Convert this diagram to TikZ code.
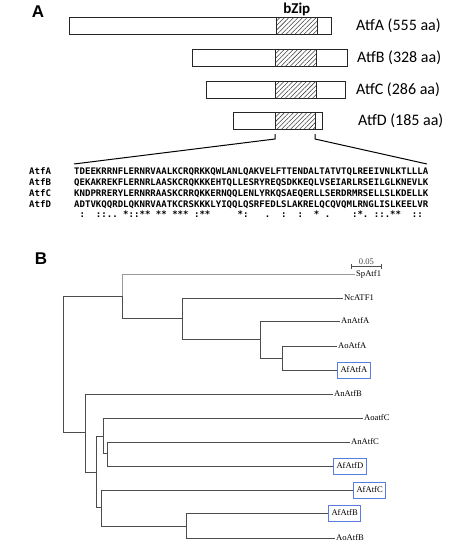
\documentclass[tikz,border=0pt]{standalone}
\usepackage{fontspec}
\setmainfont{Carlito}
\newfontfamily\seqfont{DejaVu Sans Mono}
\newfontfamily\treefont{Liberation Serif}
\newfontfamily\panelfont{Liberation Sans}
\usetikzlibrary{positioning, arrows.meta, patterns.meta}
\definecolor{boxblue}{RGB}{88,125,222}

\begin{document}
\begin{tikzpicture}[
        x=1pt, y=-1pt,
        bar/.style={
            rectangle,
            draw=black!85,
            line width=1.1pt,
            fill=white,
            minimum height=17pt,
            inner sep=0pt,
            anchor=west
        },
        zip/.style={
            rectangle,
            draw=black!85,
            line width=0.9pt,
            minimum height=17pt,
            inner sep=0pt,
            anchor=west,
            pattern={Lines[angle=45, distance=3.2pt, line width=0.55pt]},
            pattern color=black!75
        },
        protlabel/.style={
            anchor=west,
            inner sep=0pt,
            font=\fontsize{16}{18}\selectfont
        },
        seqrow/.style={
            anchor=base west,
            inner sep=0pt,
            font=\seqfont\bfseries\fontsize{9.05}{10}\selectfont\frenchspacing
        },
        panel/.style={
            inner sep=0pt,
            font=\panelfont\bfseries\fontsize{17}{19}\selectfont
        },
        branch/.style={
            draw=black!70,
            line width=0.95pt
        },
        leaf/.style={
            anchor=west,
            inner sep=1pt,
            font=\treefont\fontsize{8.6}{10}\selectfont
        },
        afleaf/.style={
            leaf,
            draw=boxblue,
            line width=1pt,
            inner xsep=3pt,
            minimum height=16pt
        }
    ]
        \useasboundingbox (0,0) rectangle (474,551);

        % Panel A: domain bars
        \node [panel] (panA) at (38,12) {A};

        \node [bar, minimum width=262] (barA) at (69,26) {};
        \node [zip, minimum width=41] (zipA) at (276,26) {};
        \node [bar, minimum width=155] (barB) at (192,58) {};
        \node [zip, minimum width=41] (zipB) at (275,58) {};
        \node [bar, minimum width=139] (barC) at (206,90) {};
        \node [zip, minimum width=41] (zipC) at (275,90) {};
        \node [bar, minimum width=89] (barD) at (233,121) {};
        \node [zip, minimum width=40] (zipD) at (275,121) {};

        \node [above=1.5pt of zipA, inner sep=0pt, font=\bfseries\fontsize{15}{17}\selectfont] (bzip) {bZip};

        \node [protlabel] (labA) at (356,26) {AtfA (555 aa)};
        \node [protlabel] (labB) at (357,58) {AtfB (328 aa)};
        \node [protlabel] (labC) at (356,90) {AtfC (286 aa)};
        \node [protlabel] (labD) at (358,121) {AtfD (185 aa)};

        % Alignment
        \node [seqrow] (nameA) at (29,174.3) {AtfA};
        \node [seqrow] (nameB) at (29,185.3) {AtfB};
        \node [seqrow] (nameC) at (29,196.3) {AtfC};
        \node [seqrow] (nameD) at (29,207.3) {AtfD};

        \node [seqrow] (seqA) at (74,174.3) {TDEEKRRNFLERNRVAALKCRQRKKQWLANLQAKVELFTTENDALTATVTQLREEIVNLKTLLLA};
        \node [seqrow] (seqB) at (74,185.3) {QEKAKREKFLERNRLAASKCRQKKKEHTQLLESRYREQSDKKEQLVSEIARLRSEILGLKNEVLK};
        \node [seqrow] (seqC) at (74,196.3) {KNDPRRERYLERNRRAASKCRRQKKERNQQLENLYRKQSAEQERLLSERDRMRSELLSLKDELLK};
        \node [seqrow] (seqD) at (74,207.3) {ADTVKQQRDLQKNRVAATKCRSKKKLYIQQLQSRFEDLSLAKRELQCQVQMLRNGLISLKEELVR};
        \node [seqrow] (cons) at (74,217.5) {~:~~::..~*::**~**~***~:**~~~~~*:~~~.~~:~~:~~*~.~~~~:*.~::.**~~::};

        % Zoom lines
        \coordinate (zl) at (275,134);
        \coordinate (zr) at (315,134);
        \coordinate (sl) at (74,164);
        \coordinate (sr) at (427,164);
        \draw [line width=1pt] (zl) -- ++(0,5) -- (sl);
        \draw [line width=1pt] (zr) -- ++(0,5) -- (sr);

        % Panel B: tree
        \node [panel] (panB) at (41,259) {B};

        \coordinate (sb1) at (351,266);
        \coordinate (sb2) at (382,266);
        \draw [black!70, line width=0.7pt, {Bar[width=5pt]}-{Bar[width=5pt]}] (sb1) -- (sb2)
            node [midway, above=1.5pt, inner sep=0pt, font=\treefont\fontsize{8.6}{10}\selectfont] (sbtext) {0.05};

        \node [leaf] (SpAtf1) at (355,274) {SpAtf1};
        \node [leaf] (NcATF1) at (343,298) {NcATF1};
        \node [leaf] (AnAtfA) at (340,321) {AnAtfA};
        \node [leaf] (AoAtfA) at (337,346) {AoAtfA};
        \node [afleaf] (AfAtfA) at (337,370) {AfAtfA};
        \node [leaf] (AnAtfB) at (333,394) {AnAtfB};
        \node [leaf] (AoatfC) at (363,418) {AoatfC};
        \node [leaf] (AnAtfC) at (350,442) {AnAtfC};
        \node [afleaf] (AfAtfD) at (333,466) {AfAtfD};
        \node [afleaf] (AfAtfC) at (353,490) {AfAtfC};
        \node [afleaf] (AfAtfB) at (328,513) {AfAtfB};
        \node [leaf] (AoAtfB) at (335,538) {AoAtfB};

        \coordinate (r) at (63,364);
        \coordinate (n1) at (122,296);
        \coordinate (n2) at (182,318);
        \coordinate (n3) at (260,339);
        \coordinate (n4) at (282,358);
        \coordinate (n5) at (85,432);
        \coordinate (n6) at (96,472);
        \coordinate (n7) at (103,436);
        \coordinate (n8) at (107,453);
        \coordinate (n9) at (101,507);
        \coordinate (n10) at (186,526);

        \draw [branch] (r) |- (n1);
        \draw [branch] (r) |- (n5);
        \draw [branch, draw=black!40] (n1) |- (SpAtf1.west);
        \draw [branch] (n1) |- (n2);
        \draw [branch] (n2) |- (NcATF1.west);
        \draw [branch] (n2) |- (n3);
        \draw [branch] (n3) |- (AnAtfA.west);
        \draw [branch] (n3) |- (n4);
        \draw [branch] (n4) |- (AoAtfA.west);
        \draw [branch] (n4) |- (AfAtfA.west);
        \draw [branch] (n5) |- (AnAtfB.west);
        \draw [branch] (n5) |- (n6);
        \draw [branch] (n6) |- (n7);
        \draw [branch] (n6) |- (n9);
        \draw [branch] (n7) |- (AoatfC.west);
        \draw [branch] (n7) |- (n8);
        \draw [branch] (n8) |- (AnAtfC.west);
        \draw [branch] (n8) |- (AfAtfD.west);
        \draw [branch] (n9) |- (AfAtfC.west);
        \draw [branch] (n9) |- (n10);
        \draw [branch] (n10) |- (AfAtfB.west);
        \draw [branch] (n10) |- (AoAtfB.west);

    \end{tikzpicture}
\end{document}
